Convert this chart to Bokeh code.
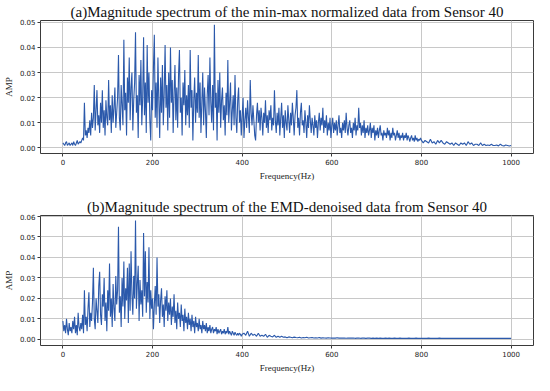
import numpy as np
from bokeh.plotting import figure
from bokeh.layouts import column
from bokeh.models import NumeralTickFormatter, FixedTicker, Range1d
from bokeh.embed import file_html
from bokeh.resources import INLINE

# Frequencies (Hz): 2 Hz steps up to 798 Hz, then 4 Hz steps to 1000 Hz
freq_a = list(range(0, 800, 2)) + list(range(800, 1001, 4))
# Frequencies (Hz): 2 Hz steps up to 398 Hz, then 4 Hz steps to 1000 Hz
freq_b = list(range(0, 400, 2)) + list(range(400, 1001, 4))

# (a) min-max normalized data, amplitude in units of 1e-3
amp_a_milli = [
    2, 1.5, 1, 2, 2.5, 1, 1.5, 2, 1, 1.5, 2, 1, 2.5, 1.5, 1, 2, 3, 1.5, 2, 2.5,
    2, 3, 4, 3, 18, 5, 7, 4, 8, 6, 11, 5, 14, 8, 12, 25, 7, 15, 23, 9,
    13, 6, 18, 10, 23, 8, 15, 5, 19, 12, 9, 27, 11, 17, 6, 21, 10, 16, 24, 8,
    14, 20, 37, 12, 7, 25, 17, 9, 43, 15, 22, 5, 28, 18, 36, 11, 24, 30, 7, 19,
    26, 46, 14, 21, 4, 29, 17, 35, 9, 20, 44, 13, 26, 6, 41, 18, 30, 11, 3, 23,
    15, 32, 45, 12, 26, 8, 36, 19, 4, 28, 14, 33, 9, 22, 41, 16, 25, 7, 30, 12,
    40, 18, 27, 6, 22, 33, 11, 24, 8, 29, 39, 14, 20, 5, 26, 17, 31, 9, 21, 13,
    25, 8, 39, 16, 23, 3, 19, 28, 10, 22, 14, 37, 12, 26, 6, 18, 30, 9, 24, 15,
    4, 21, 29, 13, 36, 18, 10, 25, 7, 49, 16, 22, 3, 27, 14, 30, 8, 19, 24, 11,
    17, 5, 22, 13, 35, 10, 18, 26, 7, 15, 21, 9, 29, 12, 6, 19, 24, 10, 15, 5,
    13, 20, 4, 11, 16, 8, 19, 12, 6, 27, 14, 9, 17, 11, 5, 3, 13, 18, 10, 15,
    7, 16, 12, 5, 14, 10, 19, 8, 13, 6, 15, 11, 17, 7, 12, 9, 23, 11, 6, 14,
    9, 16, 5, 12, 18, 8, 13, 4, 15, 10, 7, 17, 11, 6, 14, 9, 18, 12, 5, 13,
    16, 23, 8, 12, 5, 14, 18, 9, 11, 6, 15, 10, 4, 13, 8, 17, 11, 6, 12, 9,
    5, 13, 8, 11, 4, 10, 14, 7, 12, 9, 16, 6, 11, 8, 13, 5, 10, 7, 12, 4,
    9, 12, 6, 10, 7, 11, 5, 9, 13, 6, 8, 4, 10, 7, 11, 6, 14, 8, 5, 9,
    11, 6, 8, 4, 10, 7, 12, 5, 9, 7, 16, 8, 10, 5, 9, 6, 11, 4, 8, 6,
    9, 5, 7, 10, 4, 8, 6, 9, 3, 7, 5, 8, 4, 7, 9, 5, 6, 3, 7, 5,
    6, 4, 8, 5, 7, 3, 6, 4, 8, 5, 6, 3, 5, 7, 4, 6, 3, 5, 4, 6,
    3, 5, 4, 6, 3, 5, 4, 2.5, 4, 5, 3, 4, 2.5, 5, 3, 4, 2.5, 3.5, 3, 4,
    3,
    2, 3, 2.5, 2, 3.5, 2, 2.5, 1.5, 3, 2,
    3, 2, 1.5, 2.5, 2, 1.5, 2, 1, 2, 1.5,
    1, 2, 1.5, 2, 1, 2.5, 1.5, 2, 1, 1.5,
    1.5, 1, 2, 1, 1.5, 1, 1.2, 1, 1.5, 1,
    1, 1.2, 0.8, 1.5, 1, 0.8, 1.2, 1, 0.8, 1,
]

# (b) EMD-denoised data, amplitude in units of 1e-3
amp_b_milli = [
    9, 4, 7, 3, 10, 5, 2, 8, 4, 6, 3, 9, 5, 11, 3, 7, 2, 13, 6, 4,
    8, 5, 12, 3, 24, 7, 11, 4, 15, 23, 6, 13, 9, 18, 35, 10, 5, 20, 14, 8,
    26, 33, 12, 7, 22, 16, 30, 9, 18, 4, 24, 14, 37, 11, 20, 6, 27, 15, 9, 31,
    17, 24, 55, 13, 21, 6, 30, 16, 38, 10, 25, 19, 35, 8, 37, 14, 43, 22, 12, 31,
    20, 58, 15, 27, 36, 9, 29, 17, 24, 11, 52, 21, 43, 13, 28, 18, 45, 10, 24, 15,
    20, 5, 17, 26, 12, 40, 16, 22, 8, 19, 25, 11, 17, 6, 21, 14, 24, 9, 18, 12,
    20, 7, 16, 11, 22, 8, 14, 5, 18, 10, 13, 6, 17, 9, 12, 4, 15, 8, 11, 5,
    13, 7, 10, 4, 12, 6, 9, 3, 11, 6, 8, 4, 10, 5, 7, 3, 9, 5, 7, 4,
    8, 3, 6, 4, 7, 3, 5, 6, 3, 5, 4, 6, 2.5, 5, 3, 4, 5, 2.5, 4, 3,
    5, 2.5, 4, 3, 6, 2.5, 4, 3, 2, 4, 3, 2, 3.5, 2.5, 2, 3, 2, 3, 2.5, 1.5,
    2.5,
    3, 2, 4, 1.5, 3, 2, 2.5, 1.5, 3, 1.5,
    2, 1.5, 2.5, 1, 2, 1.5, 1.2, 2, 1, 1.5,
    1, 1.5, 1, 1.2, 0.8, 1.2, 1, 0.8, 1.1, 0.9,
    0.8, 1, 0.7, 0.9, 0.8, 1, 0.7, 0.8, 0.9, 0.7,
    0.8, 0.7, 0.9, 0.6, 0.8, 0.7, 0.6, 0.8, 0.7, 0.6,
    0.7, 0.6, 0.8, 0.6, 0.7, 0.6, 0.7, 0.5, 0.7, 0.6,
    0.6, 0.7, 0.5, 0.6, 0.7, 0.5, 0.6, 0.6, 0.5, 0.6,
    0.6, 0.5, 0.6, 0.5, 0.6, 0.5, 0.6, 0.5, 0.5, 0.6,
    0.5, 0.6, 0.5, 0.5, 0.6, 0.5, 0.5, 0.6, 0.5, 0.5,
    0.5, 0.5, 0.6, 0.5, 0.5, 0.5, 0.6, 0.5, 0.5, 0.5,
    0.5, 0.5, 0.5, 0.6, 0.5, 0.5, 0.5, 0.5, 0.5, 0.6,
    0.5, 0.5, 0.5, 0.5, 0.5, 0.5, 0.5, 0.5, 0.5, 0.5,
    0.5, 0.5, 0.5, 0.5, 0.5, 0.5, 0.5, 0.5, 0.5, 0.5,
    0.5, 0.5, 0.5, 0.5, 0.5, 0.5, 0.5, 0.5, 0.5, 0.5,
    0.5, 0.5, 0.5, 0.5, 0.5, 0.5, 0.5, 0.5, 0.5, 0.5,
]

title_a = "(a)Magnitude spectrum of the min-max normalized data from Sensor 40"
title_b = "(b)Magnitude spectrum of the EMD-denoised data from Sensor 40"
x_label = "Frequency(Hz)"
y_label = "AMP"
x_ticks = [0, 200, 400, 600, 800, 1000]
y_ticks_a = [0.0, 0.01, 0.02, 0.03, 0.04, 0.05]
y_ticks_b = [0.0, 0.01, 0.02, 0.03, 0.04, 0.05, 0.06]

LINE = "#2b59ab"
SERIF = "Liberation Serif"


def make_fig(title, xs, amps, yticks, yr, height, top, bottom):
    p = figure(width=534, height=height, output_backend="svg", toolbar_location=None,
               x_range=Range1d(-50, 1050), y_range=Range1d(*yr),
               min_border_left=36, min_border_right=1,
               min_border_top=top, min_border_bottom=bottom)
    p.title.text = title
    p.title.align = "center"
    p.title.text_font = SERIF
    p.title.text_font_size = "15px"
    p.title.text_font_style = "normal"
    p.title.text_color = "#111111"
    p.title.standoff = 2
    p.title.offset = 0
    n = min(len(xs), len(amps))
    y = np.array(amps[:n], dtype=float) / 1000.0
    p.line(xs[:n], y, line_color=LINE, line_width=1.1)
    p.outline_line_color = "#3a3a3a"
    p.outline_line_width = 1
    for ax in (p.xaxis[0], p.yaxis[0]):
        ax.axis_line_color = None
        ax.major_tick_in = 0
        ax.major_tick_out = 3
        ax.minor_tick_line_color = None
        ax.major_tick_line_color = "#3a3a3a"
        ax.major_label_text_font = "DejaVu Sans"
        ax.major_label_text_font_size = "7px"
        ax.major_label_text_color = "#222222"
        ax.major_label_standoff = 2
        ax.axis_label_text_font = SERIF
        ax.axis_label_text_font_size = "9px"
        ax.axis_label_text_font_style = "normal"
        ax.axis_label_text_color = "#222222"
        ax.axis_label_standoff = 3
    p.xaxis.ticker = FixedTicker(ticks=x_ticks)
    p.yaxis.ticker = FixedTicker(ticks=yticks)
    p.yaxis.formatter = NumeralTickFormatter(format="0.00")
    p.xaxis.axis_label = x_label
    p.yaxis.axis_label = y_label
    p.xgrid.ticker = FixedTicker(ticks=x_ticks)
    p.ygrid.ticker = FixedTicker(ticks=yticks)
    for g in (p.xgrid[0], p.ygrid[0]):
        g.grid_line_color = "#c8c8c8"
        g.grid_line_width = 1
    p.background_fill_color = "white"
    p.border_fill_color = "white"
    return p


p1 = make_fig(title_a, freq_a, amp_a_milli, y_ticks_a, (-0.0022, 0.0507), 183, 19, 28)
p2 = make_fig(title_b, freq_b, amp_b_milli, y_ticks_b, (-0.003, 0.0605), 192, 32, 24)

layout = column(p1, p2, spacing=0)
open("out.html", "w").write(file_html(layout, INLINE))
